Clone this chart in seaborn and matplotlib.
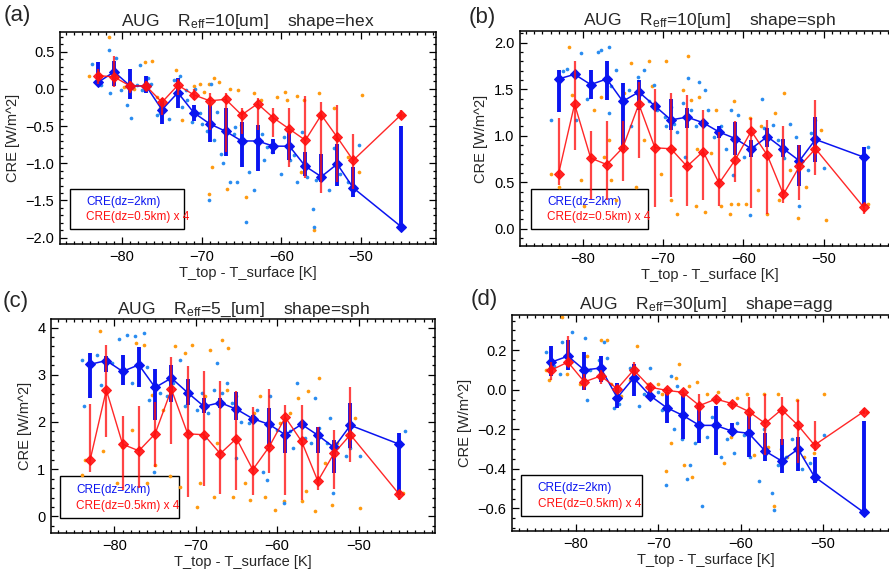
import matplotlib
matplotlib.use("Agg")
import numpy as np
import pandas as pd
import matplotlib.pyplot as plt
from matplotlib.patches import Rectangle
from matplotlib.ticker import MultipleLocator
import seaborn as sns

# ============================
# Data
# ============================

t_bins = [-83, -81, -79, -77, -75, -73, -71, -69, -67, -65, -63, -61, -59, -57, -55, -53, -51, -45]

# (a) Reff=10 hex
a_blue = [0.09, 0.23, 0.04, 0.04, -0.28, -0.05, -0.32, -0.47, -0.57, -0.70, -0.70, -0.77, -0.77, -1.04, -1.18, -1.01, -1.33, -1.85]
a_blue_hi = [0.36, 0.38, 0.27, 0.17, -0.16, 0.15, -0.22, -0.22, -0.25, -0.45, -0.48, -0.68, -0.57, -0.85, -0.87, -0.74, -1.05, -0.50]
a_blue_lo = [0.05, 0.04, -0.13, -0.05, -0.47, -0.25, -0.43, -0.72, -0.90, -1.05, -1.10, -0.88, -0.95, -1.17, -1.25, -1.30, -1.45, -1.85]
a_red = [0.18, 0.16, 0.04, 0.04, -0.18, 0.05, -0.08, -0.16, -0.14, -0.35, -0.20, -0.39, -0.54, -0.69, -0.35, -0.65, -0.96, -0.35]
a_red_hi = [0.27, 0.44, 0.10, 0.10, -0.12, 0.13, 0.00, -0.05, -0.05, -0.25, -0.12, -0.25, -0.25, -0.10, -0.18, -0.22, -0.60, -0.28]
a_red_lo = [0.07, 0.03, -0.05, -0.03, -0.35, -0.08, -0.15, -0.55, -0.85, -0.60, -0.55, -0.65, -1.05, -1.20, -1.40, -1.25, -1.35, -0.40]
a_dots_blue = [(-83.75, 0.33), (-81.7, 0.52), (-80.8, 0.41), (-81.5, -0.06), (-79.4, -0.21), (-78.9, -0.39),
               (-77.7, 0.32), (-77.5, -0.02), (-76.4, 0.07), (-75.6, -0.35), (-74.1, -0.40), (-72.7, 0.18),
               (-72.5, -0.24), (-71.8, -0.15), (-71.2, -0.44), (-70.2, -0.33), (-70.0, -0.47), (-69.3, -0.56),
               (-69.1, -1.50), (-68.5, -0.69), (-68.1, -0.31), (-67.6, -0.87), (-67.4, -1.00), (-66.4, -1.25),
               (-65.8, -0.51), (-65.6, -1.25), (-64.5, -1.79), (-64.1, -1.12), (-63.5, -1.36), (-62.4, -0.60),
               (-62.2, -0.96), (-61.2, -0.85), (-60.1, -1.14), (-59.7, -0.65), (-58.4, -0.89), (-58.0, -1.25),
               (-57.4, -0.58), (-56.8, -1.18), (-56.1, -1.61), (-55.9, -1.85), (-55.7, -1.23), (-54.0, -1.36),
               (-53.4, -0.80), (-52.6, -1.14), (-51.7, -1.25), (-50.3, -0.76), (-44.6, -1.85), (-82.7, 0.05),
               (-80.2, -0.02), (-78.1, 0.05), (-76.8, 0.14), (-75.2, -0.33), (-73.5, 0.12), (-72.0, -0.02),
               (-70.8, 0.00), (-68.9, 0.07), (-66.0, -0.60), (-61.8, -0.78), (-58.9, -0.96)]
a_dots_orange = [(-81.7, 0.70), (-84.2, 0.18), (-82.7, 0.18), (-80.6, 0.16), (-79.8, 0.03), (-78.5, 0.00),
                 (-77.1, 0.36), (-76.2, 0.37), (-75.6, -0.11), (-75.2, -0.26), (-73.3, 0.25), (-72.5, -0.42),
                 (-71.0, 0.04), (-70.2, 0.07), (-69.7, -0.04), (-69.1, 0.07), (-68.5, 0.14), (-67.9, 0.09),
                 (-68.7, -1.05), (-69.1, -1.41), (-66.8, -1.34), (-66.4, 0.00), (-65.5, -0.02), (-65.1, -0.49),
                 (-64.5, -1.45), (-63.5, -0.06), (-62.6, -0.15), (-60.5, -0.11), (-59.5, -0.04), (-59.3, -0.15),
                 (-58.0, -0.09), (-57.2, -0.15), (-57.6, -1.12), (-55.9, -1.90), (-55.3, -0.06), (-55.1, -0.35),
                 (-53.4, -0.26), (-53.2, -1.00), (-51.7, -0.91), (-50.3, -1.12), (-49.9, -0.08), (-44.8, -0.35),
                 (-65.1, -0.67), (-62.9, -0.76), (-53.2, -0.67)]

# (b) Reff=10 sph
b_blue = [1.61, 1.66, 1.55, 1.61, 1.37, 1.47, 1.32, 1.17, 1.20, 1.14, 1.04, 0.97, 0.86, 0.99, 0.86, 0.73, 0.96, 0.77]
b_blue_hi = [1.71, 1.70, 1.71, 1.80, 1.57, 1.60, 1.33, 1.39, 1.30, 1.17, 1.10, 1.15, 0.95, 1.08, 0.96, 0.90, 1.20, 0.88]
b_blue_lo = [1.26, 1.62, 1.40, 1.38, 0.85, 1.28, 1.28, 1.06, 1.08, 1.10, 0.98, 0.79, 0.77, 0.88, 0.77, 0.46, 0.72, 0.24]
b_red = [0.59, 1.34, 0.76, 0.69, 0.87, 1.34, 0.87, 0.86, 0.67, 0.83, 0.49, 0.74, 1.05, 0.79, 0.37, 0.67, 0.86, 0.23]
b_red_hi = [1.19, 1.80, 1.05, 1.16, 1.16, 1.58, 1.50, 1.46, 1.44, 1.28, 1.04, 1.16, 1.19, 1.17, 1.10, 0.90, 1.38, 0.27]
b_red_lo = [0.47, 0.85, 0.32, 0.31, 0.51, 0.76, 0.23, 0.34, 0.24, 0.31, 0.24, 0.50, 0.22, 0.16, 0.28, 0.31, 0.58, 0.16]
b_dots_blue = [(-84.0, 1.17), (-82.5, 1.70), (-81.9, 1.72), (-80.8, 1.17), (-80.2, 1.89), (-79.4, 1.40),
               (-78.1, 1.90), (-77.7, 1.92), (-76.7, 1.95), (-76.5, 1.53), (-76.7, 1.24), (-75.9, 1.71),
               (-74.2, 1.49), (-74.0, 1.10), (-73.1, 1.63), (-72.3, 1.71), (-71.7, 1.37), (-71.1, 1.54),
               (-70.7, 1.28), (-69.8, 1.20), (-69.6, 1.10), (-69.0, 1.31), (-68.6, 1.13), (-68.2, 1.04),
               (-67.5, 1.35), (-67.3, 0.77), (-66.9, 1.62), (-66.5, 1.28), (-65.9, 1.10), (-65.5, 1.58),
               (-64.8, 1.49), (-64.4, 1.28), (-63.6, 0.99), (-62.8, 1.10), (-62.1, 0.86), (-61.5, 1.28),
               (-61.3, 0.58), (-60.7, 1.22), (-59.9, 0.77), (-59.2, 0.15), (-58.6, 0.88), (-57.6, 1.40),
               (-57.4, 1.08), (-56.3, 1.11), (-55.7, 0.95), (-54.9, 0.76), (-54.2, 1.13), (-53.4, 0.99),
               (-53.0, 0.24), (-51.9, 0.63), (-51.5, 1.03), (-49.9, 0.65), (-44.5, 0.88)]
b_dots_orange = [(-84.0, 0.59), (-82.9, 0.45), (-81.7, 1.95), (-81.3, 1.44), (-80.2, 0.52), (-79.8, 0.24),
                 (-78.6, 1.28), (-77.7, 1.42), (-77.3, 0.77), (-76.7, 0.95), (-76.5, 0.52), (-75.8, 0.31),
                 (-74.8, 1.46), (-74.0, 1.78), (-73.4, 0.45), (-72.3, 0.95), (-71.7, 1.80), (-71.3, 1.53),
                 (-70.2, 0.59), (-69.6, 1.80), (-69.0, 0.31), (-68.2, 0.16), (-67.5, 1.49), (-66.9, 1.86),
                 (-66.5, 1.38), (-65.9, 0.24), (-65.5, 1.42), (-64.8, 0.18), (-64.0, 0.81), (-63.4, 1.28),
                 (-62.8, 0.24), (-61.7, 0.16), (-61.1, 1.37), (-60.7, 0.27), (-59.6, 0.27), (-59.2, 1.19),
                 (-58.2, 0.42), (-57.8, 1.10), (-57.1, 0.16), (-56.1, 1.24), (-55.5, 0.31), (-54.9, 1.46),
                 (-54.2, 0.63), (-53.2, 0.11), (-52.2, 0.45), (-51.1, 1.17), (-50.3, 1.06), (-49.7, 0.09),
                 (-44.5, 0.27), (-68.6, 0.86), (-61.5, 0.27), (-65.7, 0.86)]

# (c) Reff=5 sph
c_blue = [3.22, 3.30, 3.07, 3.21, 2.73, 2.93, 2.62, 2.33, 2.41, 2.27, 2.07, 1.95, 1.73, 1.95, 1.72, 1.46, 1.93, 1.53]
c_blue_hi = [3.45, 3.40, 3.41, 3.59, 3.13, 3.20, 2.92, 2.50, 2.50, 2.64, 2.15, 2.29, 2.05, 2.00, 1.90, 1.62, 2.40, 1.76]
c_blue_lo = [2.50, 3.05, 2.78, 2.74, 2.04, 2.43, 2.36, 2.18, 2.30, 2.04, 2.00, 1.48, 1.34, 1.90, 1.34, 0.92, 1.45, 0.46]
c_red = [1.19, 2.68, 1.53, 1.39, 1.75, 2.69, 1.75, 1.73, 1.33, 1.65, 0.99, 1.47, 2.10, 1.59, 0.75, 1.34, 1.73, 0.47]
c_red_hi = [2.38, 3.63, 2.12, 2.33, 2.43, 3.37, 3.19, 3.08, 2.87, 2.65, 2.31, 2.69, 2.36, 2.36, 1.90, 1.83, 2.75, 0.56]
c_red_lo = [0.95, 1.69, 0.55, 0.60, 1.04, 1.53, 0.42, 0.65, 0.47, 0.56, 0.46, 0.92, 0.46, 0.35, 0.55, 0.58, 1.16, 0.35]
c_dots_blue = [(-84.0, 3.32), (-83.8, 2.33), (-82.2, 3.42), (-81.6, 2.79), (-80.3, 3.25), (-79.5, 3.75),
               (-78.5, 3.84), (-77.9, 2.82), (-77.5, 3.81), (-76.4, 3.88), (-76.0, 3.17), (-75.8, 2.47),
               (-75.2, 0.95), (-74.4, 2.61), (-73.6, 2.54), (-72.8, 2.82), (-71.9, 3.32), (-71.3, 2.33),
               (-70.7, 1.76), (-69.9, 2.26), (-69.3, 2.61), (-68.9, 1.66), (-68.5, 2.19), (-67.8, 2.68),
               (-67.4, 3.25), (-66.8, 2.61), (-66.2, 2.82), (-65.6, 2.40), (-65.0, 1.23), (-64.4, 2.01),
               (-63.5, 1.98), (-62.5, 2.26), (-61.7, 0.95), (-61.3, 0.78), (-60.9, 2.54), (-60.0, 1.83),
               (-59.2, 0.28), (-58.4, 1.80), (-57.6, 2.82), (-56.6, 1.66), (-55.9, 1.55), (-55.3, 2.50),
               (-54.9, 1.87), (-53.9, 1.55), (-53.5, 2.08), (-53.1, 0.49), (-51.6, 1.27), (-51.0, 1.45),
               (-49.8, 1.27), (-44.3, 1.80), (-58.0, 1.45)]
c_dots_orange = [(-83.6, 1.20), (-84.0, 0.88), (-81.8, 3.92), (-81.4, 1.38), (-79.7, 0.71), (-79.1, 1.48),
                 (-77.9, 1.83), (-77.3, 3.67), (-76.4, 3.63), (-76.0, 0.71), (-75.4, 2.57), (-75.0, 1.09),
                 (-74.0, 2.26), (-73.2, 0.85), (-72.5, 3.60), (-71.9, 0.63), (-71.3, 3.46), (-70.5, 3.63),
                 (-69.9, 0.21), (-69.5, 0.71), (-68.9, 2.54), (-68.2, 3.53), (-67.8, 0.42), (-67.4, 1.55),
                 (-66.8, 3.74), (-66.2, 2.68), (-66.0, 3.56), (-65.4, 0.42), (-65.0, 2.54), (-64.0, 0.71),
                 (-63.3, 0.35), (-62.9, 2.19), (-62.1, 2.54), (-61.5, 0.42), (-60.3, 0.14), (-59.6, 1.98),
                 (-59.2, 0.32), (-58.4, 2.19), (-57.4, 2.50), (-57.0, 0.32), (-56.2, 2.65), (-55.3, 0.11),
                 (-54.9, 2.93), (-54.1, 1.13), (-53.3, 0.25), (-52.7, 1.55), (-50.4, 2.08), (-49.8, 0.18),
                 (-44.5, 0.49), (-56.4, 0.53)]

# (d) Reff=30 agg
d_blue = [0.14, 0.17, 0.10, 0.11, -0.04, 0.06, -0.03, -0.09, -0.13, -0.18, -0.18, -0.21, -0.22, -0.31, -0.36, -0.30, -0.44, -0.62]
d_blue_hi = [0.22, 0.25, 0.19, 0.17, 0.035, 0.13, 0.02, -0.01, -0.02, -0.07, -0.08, -0.17, -0.12, -0.22, -0.25, -0.24, -0.34, -0.16]
d_blue_lo = [0.07, 0.10, 0.00, 0.04, -0.09, -0.03, -0.05, -0.17, -0.25, -0.27, -0.33, -0.23, -0.34, -0.36, -0.42, -0.41, -0.47, -0.62]
d_red = [0.10, 0.14, 0.04, 0.07, 0.005, 0.10, 0.013, -0.003, -0.013, -0.08, -0.047, -0.07, -0.11, -0.17, -0.10, -0.18, -0.28, -0.11]
d_red_hi = [0.14, 0.27, 0.08, 0.10, 0.02, 0.14, 0.03, 0.01, 0.00, -0.02, -0.03, -0.06, -0.035, -0.02, -0.035, -0.05, -0.16, -0.09]
d_red_lo = [0.05, 0.12, 0.00, 0.03, -0.01, 0.07, 0.00, -0.02, -0.03, -0.16, -0.07, -0.09, -0.20, -0.33, -0.28, -0.37, -0.31, -0.12]
d_dots_blue = [(-83.7, 0.19), (-82.7, 0.12), (-81.7, 0.24), (-80.5, 0.29), (-81.9, 0.08), (-78.9, 0.26),
               (-78.7, -0.05), (-78.3, 0.10), (-77.2, 0.15), (-76.6, 0.24), (-76.2, 0.16), (-75.4, -0.09),
               (-74.8, -0.07), (-73.4, 0.11), (-72.4, -0.08), (-71.0, 0.11), (-70.1, -0.01), (-69.5, -0.10),
               (-69.1, -0.48), (-68.5, 0.07), (-68.1, -0.20), (-67.7, 0.02), (-67.1, -0.25), (-66.5, -0.45),
               (-66.1, -0.38), (-65.5, -0.27), (-64.7, -0.59), (-64.1, -0.24), (-63.5, -0.14), (-62.4, -0.34),
               (-61.6, -0.25), (-60.8, -0.32), (-59.6, -0.23), (-58.8, -0.34), (-57.8, -0.46), (-57.2, -0.20),
               (-56.2, -0.52), (-55.9, -0.61), (-55.5, -0.38), (-54.5, -0.34), (-53.7, -0.25), (-52.5, -0.40),
               (-51.5, -0.37), (-49.9, -0.23), (-44.6, -0.62), (-72.6, 0.06), (-71.8, -0.02), (-66.9, -0.13),
               (-60.4, -0.17)]
d_dots_orange = [(-83.7, 0.10), (-83.3, 0.05), (-81.7, 0.37), (-81.1, 0.08), (-79.5, 0.03), (-78.7, 0.17),
                 (-77.0, 0.25), (-76.2, 0.25), (-76.8, 0.07), (-75.8, 0.03), (-74.6, -0.03), (-73.4, 0.05),
                 (-72.6, 0.22), (-71.2, 0.03), (-70.1, 0.03), (-69.5, -0.02), (-69.1, -0.41), (-68.5, -0.27),
                 (-67.9, 0.06), (-67.5, 0.13), (-66.9, -0.38), (-66.3, 0.02), (-65.9, -0.44), (-65.3, 0.04),
                 (-64.1, -0.02), (-62.8, -0.01), (-62.0, -0.37), (-61.2, -0.24), (-60.4, -0.04), (-59.2, -0.02),
                 (-58.4, -0.33), (-57.2, -0.02), (-56.6, -0.29), (-55.9, -0.59), (-55.5, -0.02), (-54.3, -0.34),
                 (-53.1, -0.05), (-52.3, -0.34), (-51.1, -0.32), (-49.9, -0.02), (-44.6, -0.11), (-55.1, -0.30)]

BLUE = "#0a14f0"
RED = "#ff1010"
DOT_BLUE = "#2a8cf0"
DOT_ORANGE = "#ff9a10"

sns.set_theme(style="ticks")
plt.rcParams['font.family'] = ['Liberation Sans', 'DejaVu Sans']
plt.rcParams['mathtext.fontset'] = 'custom'
plt.rcParams['mathtext.rm'] = 'Liberation Sans'
plt.rcParams['mathtext.it'] = 'Liberation Sans:italic'

panels = [
    dict(tag="(a)", title="AUG    R$_{\\rm eff}$=10[um]    shape=hex",
         blue=a_blue, blue_lo=a_blue_lo, blue_hi=a_blue_hi, red=a_red, red_lo=a_red_lo, red_hi=a_red_hi,
         dots_b=a_dots_blue, dots_o=a_dots_orange, ylim=(-2.085, 0.765), major=0.5, minor=0.1,
         pos=[60, 32, 376, 212], tagxy=(4, 16), box=(0.027, 0.071, 0.304, 0.188)),
    dict(tag="(b)", title="AUG    R$_{\\rm eff}$=10[um]    shape=sph",
         blue=b_blue, blue_lo=b_blue_lo, blue_hi=b_blue_hi, red=b_red, red_lo=b_red_lo, red_hi=b_red_hi,
         dots_b=b_dots_blue, dots_o=b_dots_orange, ylim=(-0.186, 2.126), major=0.5, minor=0.1,
         pos=[520, 31, 379, 215], tagxy=(469, 17), box=(0.029, 0.078, 0.31, 0.186)),
    dict(tag="(c)", title="AUG    R$_{\\rm eff}$=5_[um]    shape=sph",
         blue=c_blue, blue_lo=c_blue_lo, blue_hi=c_blue_hi, red=c_red, red_lo=c_red_lo, red_hi=c_red_hi,
         dots_b=c_dots_blue, dots_o=c_dots_orange, ylim=(-0.35, 4.18), major=1, minor=0.2,
         pos=[51, 319, 384, 214], tagxy=(3, 301), box=(0.024, 0.070, 0.309, 0.195)),
    dict(tag="(d)", title="AUG    R$_{\\rm eff}$=30[um]    shape=agg",
         blue=d_blue, blue_lo=d_blue_lo, blue_hi=d_blue_hi, red=d_red, red_lo=d_red_lo, red_hi=d_red_hi,
         dots_b=d_dots_blue, dots_o=d_dots_orange, ylim=(-0.714, 0.378), major=0.2, minor=0.05,
         pos=[512, 315, 388, 216], tagxy=(471, 300), box=(0.024, 0.069, 0.311, 0.188)),
]

W, H = 889, 573
fig = plt.figure(figsize=(W / 100, H / 100), dpi=100)

for p in panels:
    x0, y0, w, h = p["pos"]
    ax = fig.add_axes([x0 / W, 1 - (y0 + h) / H, w / W, h / H])

    do = pd.DataFrame(p["dots_o"], columns=["T", "CRE"])
    db = pd.DataFrame(p["dots_b"], columns=["T", "CRE"])
    sns.scatterplot(data=do, x="T", y="CRE", color=DOT_ORANGE, s=7, linewidth=0, ax=ax, zorder=2)
    sns.scatterplot(data=db, x="T", y="CRE", color=DOT_BLUE, s=7, linewidth=0, ax=ax, zorder=2)

    # blue: dz=2km
    ax.vlines(t_bins, p["blue_lo"], p["blue_hi"], color=BLUE, lw=2.8, zorder=3)
    sns.lineplot(x=t_bins, y=p["blue"], color=BLUE, lw=1.1, marker="D", markersize=5.5,
                 markeredgecolor=BLUE, estimator=None, ax=ax, zorder=4)
    # red: dz=0.5km x 4
    ax.vlines(t_bins, p["red_lo"], p["red_hi"], color=RED, lw=1.6, alpha=0.78, zorder=5)
    sns.lineplot(x=t_bins, y=p["red"], color=RED, lw=1.0, alpha=0.9, marker="D", markersize=5.5,
                 markeredgecolor=RED, estimator=None, ax=ax, zorder=6)

    ax.set_xlim(-87.8, -40.6)
    ax.set_ylim(*p["ylim"])
    ax.xaxis.set_major_locator(MultipleLocator(10))
    ax.xaxis.set_minor_locator(MultipleLocator(1))
    ax.yaxis.set_major_locator(MultipleLocator(p["major"]))
    ax.yaxis.set_minor_locator(MultipleLocator(p["minor"]))
    ax.tick_params(which="both", direction="in", top=True, right=True, width=0.9, colors="black",
                   labelsize=10.5, pad=4)
    ax.tick_params(which="major", length=5)
    ax.tick_params(which="minor", length=2.5)
    for s in ax.spines.values():
        s.set_linewidth(1.1)
        s.set_color("black")

    ax.set_xlabel("T_top - T_surface [K]", fontsize=10.5, labelpad=2)
    ax.set_ylabel("CRE [W/m^2]", fontsize=10.5, labelpad=4)
    ax.set_title(p["title"], fontsize=12.5, pad=4)

    bx, by, bw, bh = p["box"]
    ax.add_patch(Rectangle((bx, by), bw, bh, transform=ax.transAxes, fill=False,
                           ec="black", lw=1.0, zorder=1))
    ax.text(bx + 0.042, by + bh * 0.68, "CRE(dz=2km)", transform=ax.transAxes, color=BLUE,
            fontsize=8.5, va="center", zorder=1)
    ax.text(bx + 0.042, by + bh * 0.30, "CRE(dz=0.5km) x 4", transform=ax.transAxes, color=RED,
            fontsize=8.5, va="center", zorder=1)

    tx, ty = p["tagxy"]
    fig.text(tx / W, 1 - ty / H, p["tag"], fontsize=16, va="center", ha="left")

fig.savefig("out.png", dpi=100)
